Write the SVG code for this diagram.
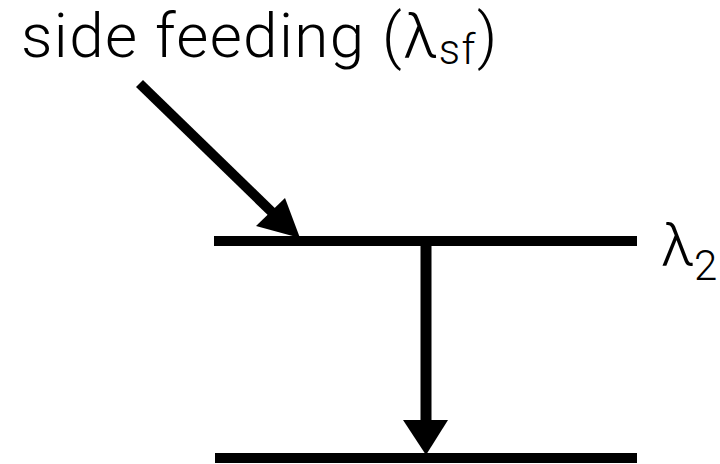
<svg xmlns="http://www.w3.org/2000/svg" width="720" height="464" viewBox="0 0 720 464">
<style>
.t{font-family:Roboto,"Liberation Sans",sans-serif;font-weight:300;fill:#000}
.lv{fill:#000}
</style>
<rect width="720" height="464" fill="#fff"/>
<g id="label-sf"><text class="t" x="21" y="57" font-size="62" letter-spacing="1.4">side feeding (λ<tspan font-size="42" dy="7">sf</tspan><tspan dy="-7">)</tspan></text></g>
<g id="level-2"><rect class="lv" x="214" y="236" width="423" height="10"/><text class="t" x="661" y="265" font-size="60">λ<tspan font-size="42" dy="15">2</tspan></text></g>
<g id="level-1"><rect class="lv" x="215" y="453" width="422" height="10"/></g>
<g id="connectors">
<line x1="139.5" y1="83.5" x2="278" y2="218" stroke="#000" stroke-width="10"/>
<polygon points="300,238 256,226 285,198"/>
<line x1="426" y1="241" x2="426" y2="422" stroke="#000" stroke-width="11"/>
<polygon points="403,420 448,420 426,455"/>
</g>
</svg>
